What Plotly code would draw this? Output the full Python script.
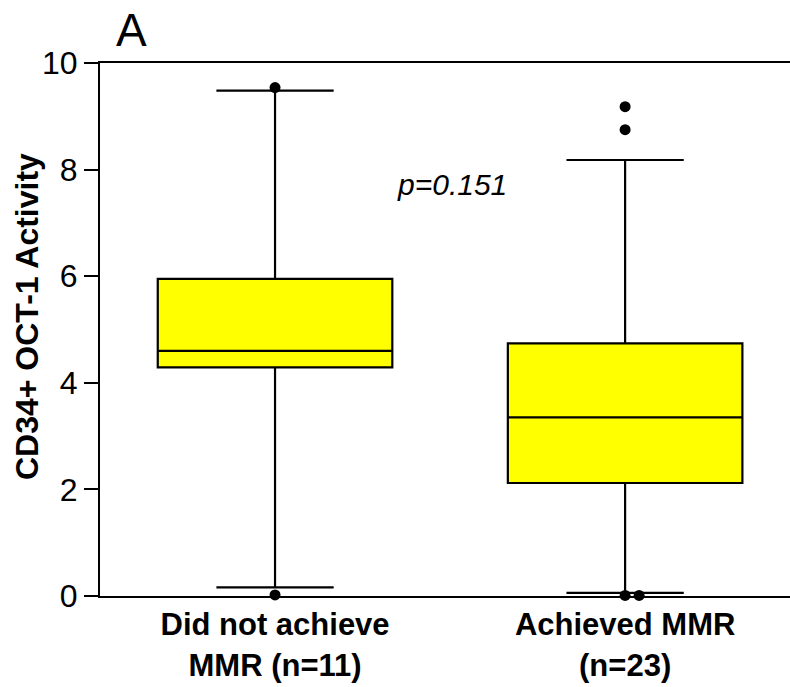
import plotly.graph_objects as go

# Group labels and summary statistics of CD34+ OCT-1 activity
groups = ["Did not achieve<br>MMR (n=11)", "Achieved MMR<br>(n=23)"]
q1 = [4.29, 2.12]
median = [4.60, 3.35]
q3 = [5.95, 4.74]
lower_whisker = [0.16, 0.06]
upper_whisker = [9.48, 8.18]

# Individual points beyond the whiskers (group index, value, small jitter)
outlier_group = [0, 0, 1, 1, 1, 1]
outlier_value = [9.54, 0.02, 9.18, 8.75, 0.01, 0.01]
outlier_jitter = [0.0, 0.0, 0.0, 0.0, 0.0, 0.04]

p_value_text = "p=0.151"
panel_label = "A"
y_title = "CD34+ OCT-1 Activity"
y_ticks = [0, 2, 4, 6, 8, 10]

fig = go.Figure()

for i in range(len(groups)):
    fig.add_trace(go.Box(
        x=[i],
        q1=[q1[i]],
        median=[median[i]],
        q3=[q3[i]],
        lowerfence=[lower_whisker[i]],
        upperfence=[upper_whisker[i]],
        width=0.67,
        whiskerwidth=0.5,
        fillcolor="#FFFF00",
        line=dict(color="black", width=2.2),
        boxpoints=False,
        hoverinfo="skip",
        showlegend=False,
    ))

fig.add_trace(go.Scatter(
    x=[g + j for g, j in zip(outlier_group, outlier_jitter)],
    y=outlier_value,
    mode="markers",
    marker=dict(color="black", size=11),
    cliponaxis=False,
    showlegend=False,
    hoverinfo="skip",
))

fig.update_xaxes(
    range=[-0.5, 1.471],
    tickmode="array",
    tickvals=list(range(len(groups))),
    ticktext=groups,
    ticks="",
    showline=True,
    linecolor="black",
    linewidth=2,
    mirror=True,
    showgrid=False,
    zeroline=False,
    tickfont=dict(family="Liberation Sans, Arial", size=31, color="black", weight="bold"),
)

fig.update_yaxes(
    range=[0, 10],
    tickmode="array",
    tickvals=y_ticks,
    ticks="outside",
    ticklen=14,
    tickwidth=2,
    tickcolor="black",
    showline=True,
    linecolor="black",
    linewidth=2,
    mirror=False,
    showgrid=False,
    zeroline=False,
    tickfont=dict(family="Liberation Sans, Arial", size=32, color="black"),
)

fig.add_annotation(
    text=y_title, textangle=-90,
    xref="paper", yref="paper", x=-0.106, y=0.525,
    xanchor="center", yanchor="middle", showarrow=False,
    font=dict(family="Liberation Sans, Arial", size=32, color="black", weight="bold"),
)

fig.add_annotation(
    text=p_value_text,
    xref="paper", yref="paper", x=0.51, y=0.772,
    xanchor="center", yanchor="middle", showarrow=False,
    font=dict(family="Liberation Sans, Arial", size=30, color="black", style="italic"),
)

fig.add_annotation(
    text=panel_label,
    xref="paper", yref="paper", x=0.046, y=1.0,
    xanchor="center", yanchor="bottom", yshift=5, showarrow=False,
    font=dict(family="Liberation Sans, Arial", size=46, color="black"),
)

fig.update_layout(
    width=790, height=687,
    margin=dict(l=100, r=0, t=63, b=91),
    plot_bgcolor="white",
    paper_bgcolor="white",
)

fig.write_html("out.html")
